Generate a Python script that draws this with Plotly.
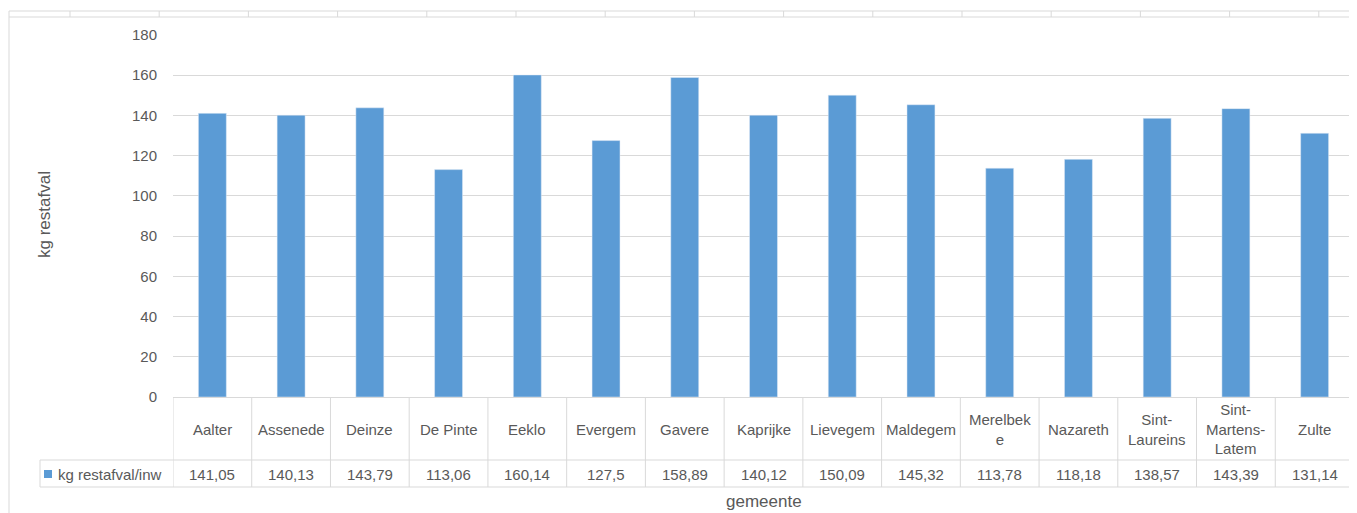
import plotly.graph_objects as go

categories = ["Aalter", "Assenede", "Deinze", "De Pinte", "Eeklo", "Evergem", "Gavere",
              "Kaprijke", "Lievegem", "Maldegem", "Merelbeke", "Nazareth",
              "Sint-Laureins", "Sint-Martens-Latem", "Zulte"]
header_labels = ["Aalter", "Assenede", "Deinze", "De Pinte", "Eeklo", "Evergem", "Gavere",
                 "Kaprijke", "Lievegem", "Maldegem", "Merelbek<br>e", "Nazareth",
                 "Sint-<br>Laureins", "Sint-<br>Martens-<br>Latem", "Zulte"]
values = [141.05, 140.13, 143.79, 113.06, 160.14, 127.5, 158.89, 140.12, 150.09,
          145.32, 113.78, 118.18, 138.57, 143.39, 131.14]
series_name = "kg restafval/inw"
y_ticks = [0, 20, 40, 60, 80, 100, 120, 140, 160, 180]

BLUE = "#5B9BD5"
GRID = "#D9D9D9"
TXT = "#595959"
FONT = "Liberation Sans"

OFF = 8  # page body margin
W, H = 1357 - OFF, 513 - OFF
# plot area in picture pixels: x 173..1354, y 35..397
ML = 173 - OFF
MR = 1357 - 1354
MT = 35 - OFF
MB = 513 - 397
pw = W - ML - MR
ph = H - MT - MB


def px_x(px):
    return (px - OFF - ML) / pw


def px_y(py):
    return (H - MB - (py - OFF)) / ph


def fmt(v):
    s = f"{v:.2f}".rstrip("0").rstrip(".")
    return s.replace(".", ",")


fig = go.Figure()
fig.add_trace(go.Bar(x=list(range(len(categories))), y=values, name=series_name,
                     marker_color=BLUE, showlegend=False))

shapes = []
annotations = []
n = len(categories)
line = dict(color=GRID, width=1)

y_head_bot = px_y(460)
y_val_bot = px_y(487)
x_leg_left = px_x(40)
TS = 15

# table vertical lines
for i in range(n + 1):
    shapes.append(dict(type="line", xref="x", yref="paper", x0=i - 0.5, x1=i - 0.5,
                       y0=0, y1=y_val_bot, line=line))
# horizontal lines
shapes.append(dict(type="line", xref="paper", yref="paper", x0=x_leg_left, x1=1,
                   y0=y_head_bot, y1=y_head_bot, line=line))
shapes.append(dict(type="line", xref="paper", yref="paper", x0=x_leg_left, x1=1,
                   y0=y_val_bot, y1=y_val_bot, line=line))
shapes.append(dict(type="line", xref="paper", yref="paper", x0=x_leg_left, x1=x_leg_left,
                   y0=y_head_bot, y1=y_val_bot, line=line))

# legend key
shapes.append(dict(type="rect", xref="paper", yref="paper", x0=px_x(44), x1=px_x(52),
                   y0=px_y(478), y1=px_y(470), fillcolor=BLUE, line=dict(width=0)))
annotations.append(dict(xref="paper", yref="paper", x=px_x(56), y=px_y(474),
                        text=series_name, showarrow=False, xanchor="left", yanchor="middle",
                        font=dict(family=FONT, size=TS, color=TXT)))

for i in range(n):
    annotations.append(dict(xref="x", yref="paper", x=i, y=px_y(429), text=header_labels[i],
                            showarrow=False, xanchor="center", yanchor="middle",
                            font=dict(family=FONT, size=TS, color=TXT)))
    annotations.append(dict(xref="x", yref="paper", x=i, y=px_y(474), text=fmt(values[i]),
                            showarrow=False, xanchor="center", yanchor="middle",
                            font=dict(family=FONT, size=TS, color=TXT)))

# axis titles
annotations.append(dict(xref="paper", yref="paper", x=px_x(45), y=px_y(215),
                        text="kg restafval", textangle=-90, showarrow=False,
                        xanchor="center", yanchor="middle",
                        font=dict(family=FONT, size=17, color=TXT)))
annotations.append(dict(xref="paper", yref="paper", x=px_x(764), y=px_y(501),
                        text="gemeente", showarrow=False, xanchor="center", yanchor="middle",
                        font=dict(family=FONT, size=17, color=TXT)))

# surrounding spreadsheet frame decoration
shapes.append(dict(type="line", xref="paper", yref="paper", x0=px_x(9), x1=px_x(1357),
                   y0=px_y(11), y1=px_y(11), line=line))
shapes.append(dict(type="line", xref="paper", yref="paper", x0=px_x(9), x1=px_x(1357),
                   y0=px_y(17), y1=px_y(17), line=line))
shapes.append(dict(type="line", xref="paper", yref="paper", x0=px_x(9), x1=px_x(9),
                   y0=px_y(11), y1=px_y(513), line=line))
for k in range(15):
    xp = 70 + 89.2 * k
    if xp < 1357:
        shapes.append(dict(type="line", xref="paper", yref="paper", x0=px_x(xp), x1=px_x(xp),
                           y0=px_y(11), y1=px_y(17), line=line))

fig.update_layout(
    width=W, height=H,
    margin=dict(l=ML, r=MR, t=MT, b=MB),
    paper_bgcolor="white", plot_bgcolor="white",
    bargap=0.645,
    shapes=shapes, annotations=annotations,
    xaxis=dict(range=[-0.5, n - 0.5], showticklabels=False, showgrid=False,
               zeroline=False, showline=False, ticks=""),
    yaxis=dict(range=[0, 180], tickvals=y_ticks, showgrid=True, gridcolor=GRID,
               gridwidth=1, zeroline=True, zerolinecolor=GRID, zerolinewidth=1,
               showline=False, ticks="", ticklabelstandoff=15,
               tickfont=dict(family=FONT, size=TS, color=TXT)),
    font=dict(family=FONT, color=TXT),
)

fig.write_html("out.html")
